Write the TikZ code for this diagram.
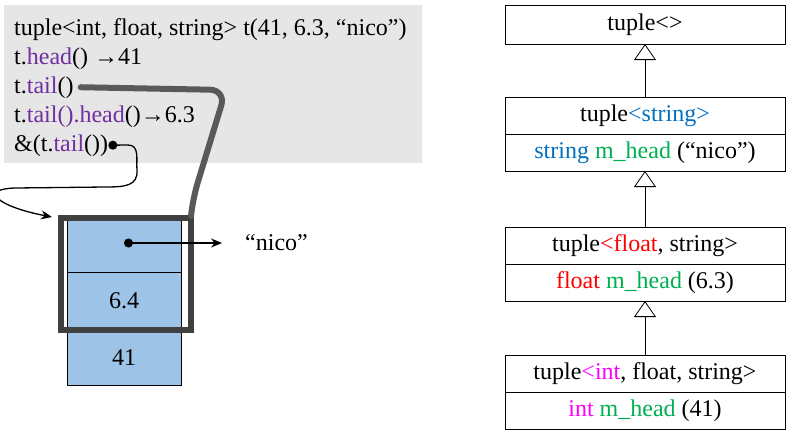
\documentclass[tikz,border=0pt]{standalone}
\usepackage{fontspec}
\setmainfont{Liberation Serif}
\usetikzlibrary{positioning,arrows.meta}

\definecolor{codebg}{HTML}{E6E6E6}
\definecolor{cellblue}{HTML}{9DC3E6}
\definecolor{framegray}{HTML}{404040}
\definecolor{tailgray}{HTML}{595959}
\definecolor{fnpurple}{HTML}{7030A0}
\definecolor{typeblue}{HTML}{0070C0}
\definecolor{membergreen}{HTML}{00B050}
\definecolor{typered}{HTML}{FF0000}
\definecolor{typemagenta}{HTML}{FF00FF}

\newcommand{\cppfn}[1]{\textcolor{fnpurple}{#1}}
\newcommand{\cppmember}{\textcolor{membergreen}{m\_head}}

\begin{document}
\begin{tikzpicture}[x=1pt, y=-1pt, node distance=0pt, font=\fontsize{24}{29}\selectfont]
		% Define styles
		\tikzstyle{codeline} = [anchor=base west, inner sep=0pt]
		\tikzstyle{cell} = [rectangle, draw, fill=cellblue, line width=0.8pt, minimum width=114pt, inner sep=0pt, outer sep=0pt]
		\tikzstyle{frame} = [draw=framegray, line width=6pt]
		\tikzstyle{tailline} = [draw=tailgray, line width=6pt, line cap=round, rounded corners=16pt]
		\tikzstyle{ptr} = [draw, line width=1.3pt, {Circle[length=9pt]}-{Stealth[length=11pt, width=9pt]}]
		\tikzstyle{classbox} = [rectangle, draw, line width=0.8pt, minimum width=280pt, minimum height=37pt, inner sep=0pt, outer sep=0pt]
		\tikzstyle{inherit} = [draw, line width=0.8pt, -{Triangle[open, width=22pt, length=16pt]}]
		
		\useasboundingbox (0,0) rectangle (789,437);
		
		% Code
		\fill[codebg] (4,5) rectangle (422,163);
		\node[codeline] (decl) at (14,35) {tuple<int, float, string> t(41, 6.3, “nico”)};
		\node[codeline] (head) at (14,64) {t.\cppfn{head}() →41};
		\node[codeline] (tail) at (14,93) {t.\cppfn{tail}()};
		\node[codeline] (tailhead) at (14,122) {t.\cppfn{tail().head}()→6.3};
		\node[codeline] (addr) at (14,151) {\&(t.\cppfn{tail}())};
		
		% Memory
		\node[cell, minimum height=55pt] (cell1) at (124,244.5) {};
		\node[cell, minimum height=58pt, below=of cell1] (cell2) {6.4};
		\node[cell, minimum height=55pt, below=of cell2] (cell3) {41};
		\draw[frame] (61,218) rectangle (190.5,329.5);
		\node[anchor=west, inner sep=0pt] (nico) at (245,243) {“nico”};
		\coordinate (slot) at ([yshift=1.5pt]cell1.center);
		\coordinate (entry) at ([xshift=-15pt]cell1.north west);
		
		% Classes
		\node[classbox, minimum height=39pt] (base) at (645,24.5) {tuple<>};
		\node[classbox, below=53pt of base] (strhead) {tuple\textcolor{typeblue}{<string>}};
		\node[classbox, below=of strhead] (strbody) {\textcolor{typeblue}{string} \cppmember{} (“nico”)};
		\node[classbox, below=56pt of strbody] (flthead) {tuple\textcolor{typered}{<float}, string>};
		\node[classbox, below=of flthead] (fltbody) {\textcolor{typered}{float} \cppmember{} (6.3)};
		\node[classbox, below=54pt of fltbody] (inthead) {tuple\textcolor{typemagenta}{<int}, float, string>};
		\node[classbox, below=of inthead] (intbody) {\textcolor{typemagenta}{int} \cppmember{} (41)};
		
		% Arrows
		\draw[tailline] ([xshift=7pt]tail.east) -- (226,90) -- (193,198) -- (191,216);
		\draw[ptr] (addr.east) -- (128,145) .. controls (140,145) and (136,160) .. (137,170)
			.. controls (138,186) and (125,187) .. (105,187) -- (15,188)
			.. controls (-20,189) and (-5,206) .. (entry);
		\draw[ptr] (slot) -- ([xshift=-23pt]nico.west |- slot);
		\draw[inherit] (strhead) -- (base);
		\draw[inherit] (flthead) -- (strbody);
		\draw[inherit] (inthead) -- (fltbody);
	\end{tikzpicture}
\end{document}
